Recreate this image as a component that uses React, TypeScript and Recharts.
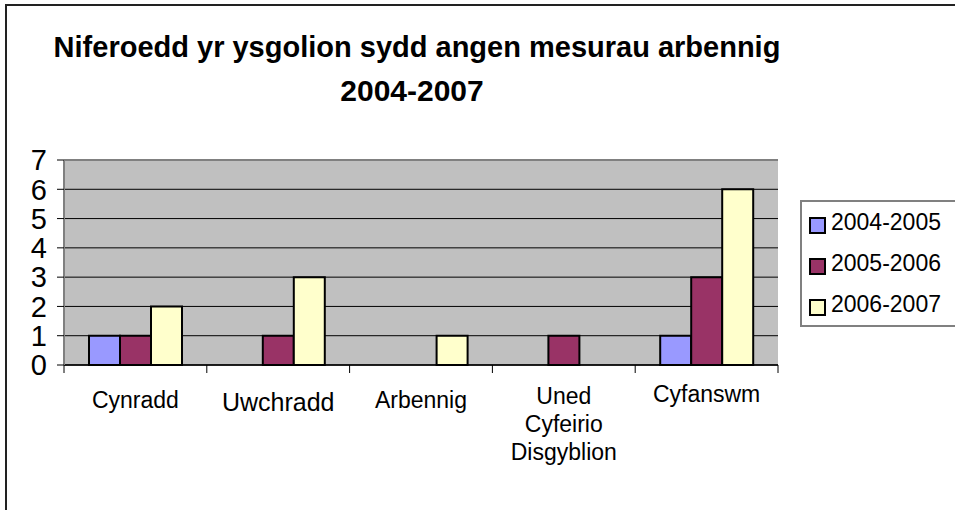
import { BarChart, Bar, XAxis, YAxis, CartesianGrid, Legend, ReferenceLine } from "recharts";

const categories = ["Cynradd", "Uwchradd", "Arbennig", "Uned Cyfeirio Disgyblion", "Cyfanswm"];
const years0405 = [1, 0, 0, 0, 1];
const years0506 = [1, 1, 0, 1, 3];
const years0607 = [2, 3, 1, 0, 6];
const yTicks = [0, 1, 2, 3, 4, 5, 6, 7];

const data = categories.map((name, i) => ({
  name,
  "2004-2005": years0405[i],
  "2005-2006": years0506[i],
  "2006-2007": years0607[i],
}));

const FONT = '"Liberation Sans", Arial, sans-serif';

// small per-label nudges so the labels sit like the original
const labelSize: Record<string, number> = { Uwchradd: 25 };
const labelDrop: Record<string, number> = { Uwchradd: 46, Cyfanswm: 37 };

function CategoryTick(props: any) {
  const { x, y, payload, index, visibleTicksCount, width } = props;
  const band = width / visibleTicksCount;
  const lines = String(payload.value).split(" ");
  const size = labelSize[payload.value] ?? 23;
  const drop = labelDrop[payload.value] ?? (lines.length > 1 ? 39 : 43);
  return (
    <g>
      <line x1={x - band / 2} y1={y} x2={x - band / 2} y2={y + 8} stroke="#000" />
      {index === visibleTicksCount - 1 && (
        <line x1={x + band / 2} y1={y} x2={x + band / 2} y2={y + 8} stroke="#000" />
      )}
      <text x={x} y={y + drop} textAnchor="middle" fontSize={size} fontFamily={FONT} fill="#000">
        {lines.map((l, i) => (
          <tspan key={i} x={x} dy={i === 0 ? 0 : 28}>
            {l}
          </tspan>
        ))}
      </text>
    </g>
  );
}

function LegendBox(props: any) {
  const { payload } = props;
  return (
    <div
      style={{
        border: "2px solid #808080",
        height: 123,
        width: 170,
        background: "#fff",
        fontFamily: FONT,
        fontSize: 23,
        color: "#000",
      }}
    >
      {(payload || []).map((entry: any) => (
        <div key={entry.value} style={{ display: "flex", alignItems: "center", height: 41 }}>
          <span
            style={{
              display: "inline-block",
              width: 13,
              height: 13,
              marginLeft: 7,
              marginRight: 5,
              marginTop: 6,
              background: entry.color,
              border: "2px solid #000",
            }}
          />
          <span>{entry.value}</span>
        </div>
      ))}
    </div>
  );
}

export default function App() {
  return (
    <div style={{ position: "absolute", left: 0, top: 0, width: 955, height: 510, overflow: "hidden", background: "#fff" }}>
      <div
        style={{
          position: "absolute",
          left: 5,
          top: 4,
          width: 980,
          height: 540,
          border: "2px solid #222",
          boxSizing: "border-box",
        }}
      />
      <svg width={955} height={120} style={{ position: "absolute", left: 0, top: 0 }}>
        <text x={417} y={57} textAnchor="middle" fontFamily={FONT} fontWeight="bold" fontSize={29} fill="#000">
          Niferoedd yr ysgolion sydd angen mesurau arbennig
        </text>
        <text x={412} y={101} textAnchor="middle" fontFamily={FONT} fontWeight="bold" fontSize={30} fill="#000">
          2004-2007
        </text>
      </svg>
      <div style={{ position: "absolute", left: 0, top: 0 }}>
        <BarChart
          width={955}
          height={510}
          data={data}
          margin={{ top: 160, right: 2, bottom: 45, left: 0 }}
          barCategoryGap={25}
          barGap={0}
        >
          <CartesianGrid vertical={false} stroke="#000" fill="#C0C0C0" fillOpacity={1} />
          <XAxis
            dataKey="name"
            height={100}
            tickSize={0}
            tickMargin={0}
            tickLine={false}
            axisLine={{ stroke: "#000", strokeWidth: 1.5 }}
            tick={<CategoryTick />}
            interval={0}
          />
          <YAxis
            width={64}
            domain={[0, 7]}
            ticks={yTicks}
            interval={0}
            tickSize={7}
            tickMargin={10}
            tickLine={{ stroke: "#000" }}
            axisLine={{ stroke: "#808080", strokeWidth: 2 }}
            tick={{ fill: "#000", fontSize: 29, fontFamily: FONT }}
          />
          <YAxis
            yAxisId="r"
            orientation="right"
            width={0}
            domain={[0, 7]}
            tick={false}
            tickLine={false}
            axisLine={{ stroke: "#808080", strokeWidth: 2 }}
          />
          <ReferenceLine y={7} stroke="#808080" strokeWidth={2} />
          <Legend
            layout="vertical"
            align="right"
            verticalAlign="middle"
            content={<LegendBox />}
            wrapperStyle={{ position: "absolute", left: 800, top: 200, width: 175, height: 127 }}
          />
          <Bar dataKey="2004-2005" fill="#9999FF" stroke="#000" strokeWidth={2} isAnimationActive={false} />
          <Bar dataKey="2005-2006" fill="#993366" stroke="#000" strokeWidth={2} isAnimationActive={false} />
          <Bar dataKey="2006-2007" fill="#FFFFCC" stroke="#000" strokeWidth={2} isAnimationActive={false} />
        </BarChart>
      </div>
    </div>
  );
}
